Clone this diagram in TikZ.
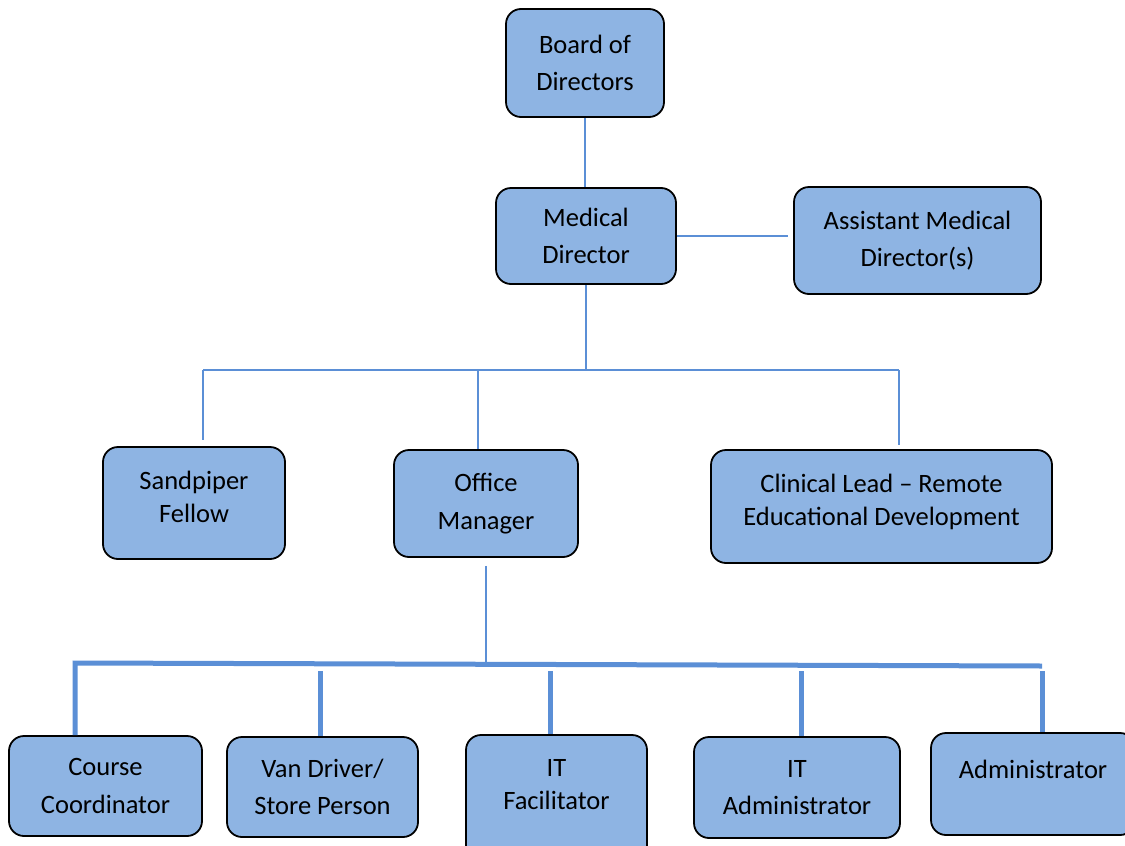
\documentclass[tikz,border=0pt]{standalone}
\usepackage{fontspec}
\setmainfont{Carlito}
\definecolor{rolefill}{HTML}{8EB4E3}
\definecolor{linkblue}{HTML}{5B8FD6}
\tikzset{
  role/.style={draw=black, line width=1.8pt, fill=rolefill, rounded corners=15pt,
    align=center, inner sep=0pt, font=\fontsize{26.5}{37.5}\selectfont},
  tight/.style={font=\fontsize{26.5}{33}\selectfont},
  link/.style={draw=linkblue, line width=2pt},
  heavy/.style={draw=linkblue, line width=5pt},
}
\begin{document}
\begin{tikzpicture}[x=1pt, y=-1pt]
\useasboundingbox (0,0) rectangle (1125,846);
\clip (0,0) rectangle (1125,846);

% Board and directors
\node[role, minimum width=158pt, minimum height=108pt] (board) at (585,63) {Board of\\Directors};
\node[role, minimum width=180pt, minimum height=96pt] (med) at (586,236) {Medical\\Director};
\node[role, minimum width=247pt, minimum height=107pt] (asst) at (917.5,240.5) {Assistant Medical\\Director(s)};

% Middle row
\node[role, tight, minimum width=182pt, minimum height=112pt] (sand) at (194,503) {Sandpiper\\Fellow\\[-20pt]\mbox{}};
\node[role, minimum width=184pt, minimum height=107pt] (office) at (486,503.5) {Office\\Manager};
\node[role, tight, minimum width=341pt, minimum height=113pt] (clin) at (881.5,506.5) {Clinical Lead -- Remote\\Educational Development\\[-20pt]\mbox{}};

% Bottom row
\node[role, minimum width=193pt, minimum height=100pt] (course) at (105.5,786) {Course\\Coordinator};
\node[role, minimum width=191pt, minimum height=100pt] (van) at (322.5,787) {Van Driver/\\Store Person};
\node[role, tight, minimum width=181pt, minimum height=130pt] (itfac) at (556.5,800) {IT\\Facilitator\\[-2pt]\mbox{}};
\node[role, minimum width=206pt, minimum height=101pt] (itadm) at (797,787.5) {IT\\Administrator};
\node[role, minimum width=204pt, minimum height=102pt] (admin) at (1033,784) {Administrator\\[-9pt]\mbox{}};

% Links
\draw[link] (board.south) -- (board.south |- med.north);
\draw[link, shorten >=5pt] (med.east) -- (asst.west |- med.east);

\coordinate (midL) at (203,370);
\coordinate (midR) at (899,370);
\draw[link] (med.south) -- (med.south |- midL);
\draw[link] (midL) -- (midR);
\foreach \x/\n/\gap in {203/sand/6, 478/office/0, 899/clin/4}
  \draw[link, shorten >=\gap pt] (\x,370) -- (\x,0 |- \n.north);

% Office team
\coordinate (lowL) at (75,663);
\coordinate (lowR) at (1042,666);
\draw[link, shorten <=8pt] (office.south) -- (office.south |- lowL);
\draw[heavy] (lowL |- course.north) -- (lowL) -- (lowR);
\foreach \x/\n in {320/van, 550/itfac, 801/itadm, 1042/admin}
  \draw[heavy] (\x,671) -- (\x,0 |- \n.north);
\end{tikzpicture}
\end{document}
